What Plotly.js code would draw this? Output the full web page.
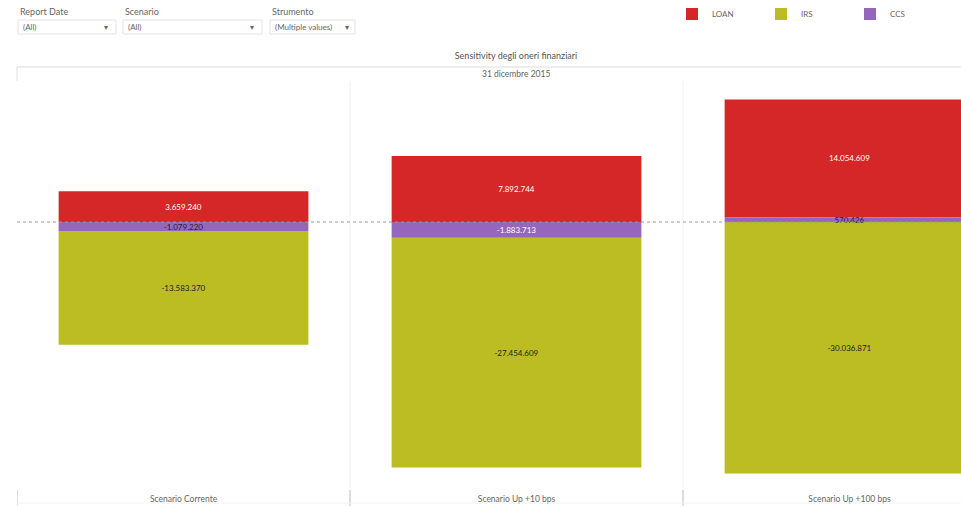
<!DOCTYPE html>
<html>
<head>
<meta charset="utf-8">
<script src="https://cdn.plot.ly/plotly-3.0.1.min.js"></script>
<style>
html,body{margin:0;padding:0;background:#fff;overflow:hidden;}
#chart{width:961px;height:506px;}
</style>
</head>
<body>
<div id="chart"></div>
<script>
// ---- data ----
const scenarios = ["Scenario Corrente", "Scenario Up +10 bps", "Scenario Up +100 bps"];
const loanValues = [3659240, 7892744, 14054609];
const irsValues = [-13583370, -27454609, -30036871];
const ccsValues = [-1079220, -1883713, 570426];
const chartTitle = "Sensitivity degli oneri finanziari";
const headerLabel = "31 dicembre 2015";

// ---- geometry helpers (pixel -> paper) ----
const L = 17, R = 961, T = 81, B = 488;
const W = R - L, H = B - T;
const px = v => (v - L) / W;
const py = v => (B - v) / H;

const font = "Lato, 'Open Sans', Arial, sans-serif";

const common = {
  type: "bar",
  x: scenarios,
  textposition: "inside",
  insidetextanchor: "middle",
  texttemplate: "%{y:,.0f}",
  cliponaxis: false,
  hoverinfo: "x+y+name"
};

const traces = [
  Object.assign({}, common, {
    name: "CCS", y: ccsValues, legendrank: 3, zorder: 1,
    marker: {color: "#9467bd"},
    textfont: {size: 8, color: ["#1f1f3a", "#ffffff", "#1f1f3a"], family: font}
  }),
  Object.assign({}, common, {
    name: "LOAN", y: loanValues, legendrank: 1,
    marker: {color: "#d62728"},
    textfont: {size: 8, color: "#ffffff", family: font}
  }),
  Object.assign({}, common, {
    name: "IRS", y: irsValues, legendrank: 2,
    marker: {color: "#bcbd22"},
    textfont: {size: 8, color: "#222222", family: font}
  })
];

const gray = "#666666";
function ann(text, x, y, anchor, size) {
  return {text: text, x: px(x), y: py(y), xref: "paper", yref: "paper",
          xanchor: anchor, yanchor: "middle", showarrow: false,
          font: {size: size, color: gray, family: font}};
}
const annotations = [
  ann(headerLabel, 516, 74, "center", 8.5),
  ann("Report Date", 18, 11, "left", 9),
  ann("Scenario", 123, 11, "left", 9),
  ann("Strumento", 270, 11, "left", 9),
  ann("(All)", 21, 27, "left", 8),
  ann("(All)", 126, 27, "left", 8),
  ann("(Multiple values)", 273, 27, "left", 8),
  ann("▾", 106, 27, "center", 8),
  ann("▾", 252, 27, "center", 8),
  ann("▾", 347, 27, "center", 8)
];

const boxLine = {color: "#e2e2e2", width: 1};
const shapes = [
  // dropdown boxes
  {type: "rect", xref: "paper", yref: "paper", x0: px(18), x1: px(116), y0: py(20), y1: py(34), line: boxLine},
  {type: "rect", xref: "paper", yref: "paper", x0: px(123), x1: px(262), y0: py(20), y1: py(34), line: boxLine},
  {type: "rect", xref: "paper", yref: "paper", x0: px(270), x1: px(355), y0: py(20), y1: py(34), line: boxLine},
  // header box
  {type: "line", xref: "paper", yref: "paper", x0: 0, x1: 1, y0: py(67), y1: py(67), line: {color: "#dcdcdc", width: 1}},
  {type: "line", xref: "paper", yref: "paper", x0: 0, x1: 0, y0: py(67), y1: py(81), line: {color: "#dcdcdc", width: 1}},
  // panel separators
  {type: "line", xref: "x", yref: "paper", x0: 0.5, x1: 0.5, y0: 0, y1: 1, line: {color: "#f0f0f0", width: 1}, layer: "below"},
  {type: "line", xref: "x", yref: "paper", x0: 1.5, x1: 1.5, y0: 0, y1: 1, line: {color: "#f0f0f0", width: 1}, layer: "below"},
  // bottom tick marks
  {type: "line", xref: "x", yref: "paper", x0: -0.5, x1: -0.5, y0: py(490), y1: py(506), line: {color: "#bbbbbb", width: 1}},
  {type: "line", xref: "x", yref: "paper", x0: 0.5, x1: 0.5, y0: py(490), y1: py(506), line: {color: "#bbbbbb", width: 1}},
  {type: "line", xref: "x", yref: "paper", x0: 1.5, x1: 1.5, y0: py(490), y1: py(506), line: {color: "#bbbbbb", width: 1}},
  {type: "line", xref: "paper", yref: "paper", x0: 0, x1: 1, y0: py(503), y1: py(503), line: {color: "#f2f2f2", width: 1}},
  // dotted zero line
  {type: "line", xref: "paper", yref: "y", x0: 0, x1: 1, y0: 0, y1: 0, line: {color: "#999999", width: 1, dash: "dot"}, layer: "above"}
];

const layout = {
  width: 961, height: 506,
  margin: {l: L, r: 961 - R, t: T, b: 506 - B, pad: 0},
  paper_bgcolor: "#ffffff", plot_bgcolor: "#ffffff",
  barmode: "relative",
  bargap: 0.25,
  separators: ",.",
  font: {family: font, size: 9, color: gray},
  title: {text: chartTitle, x: 516 / 961, xref: "container", xanchor: "center", y: (506 - 56) / 506, yref: "container", yanchor: "middle", font: {size: 9, color: "#555555", family: font}},
  uniformtext: {minsize: 8, mode: "show"},
  xaxis: {
    type: "category", range: [-0.5, -0.5 + W / 333],
    showgrid: false, zeroline: false, showline: false, ticks: "",
    tickfont: {size: 8.5, color: gray, family: font},
    ticklabelstandoff: 4, fixedrange: true
  },
  yaxis: {
    range: [-(B - 222) / 8.37 * 1e6, (222 - T) / 8.37 * 1e6],
    showgrid: false, zeroline: false, showline: false, showticklabels: false, ticks: "", fixedrange: true
  },
  legend: {
    orientation: "h", xref: "container", yref: "container",
    x: 672 / 961, xanchor: "left", y: (506 - 14) / 506, yanchor: "middle",
    entrywidth: 44, entrywidthmode: "pixels",
    font: {size: 8, color: gray, family: font},
    traceorder: "normal", itemclick: false, itemdoubleclick: false
  },
  showlegend: true,
  annotations: annotations,
  shapes: shapes
};

Plotly.newPlot("chart", traces, layout, {displayModeBar: false});
</script>
</body>
</html>
